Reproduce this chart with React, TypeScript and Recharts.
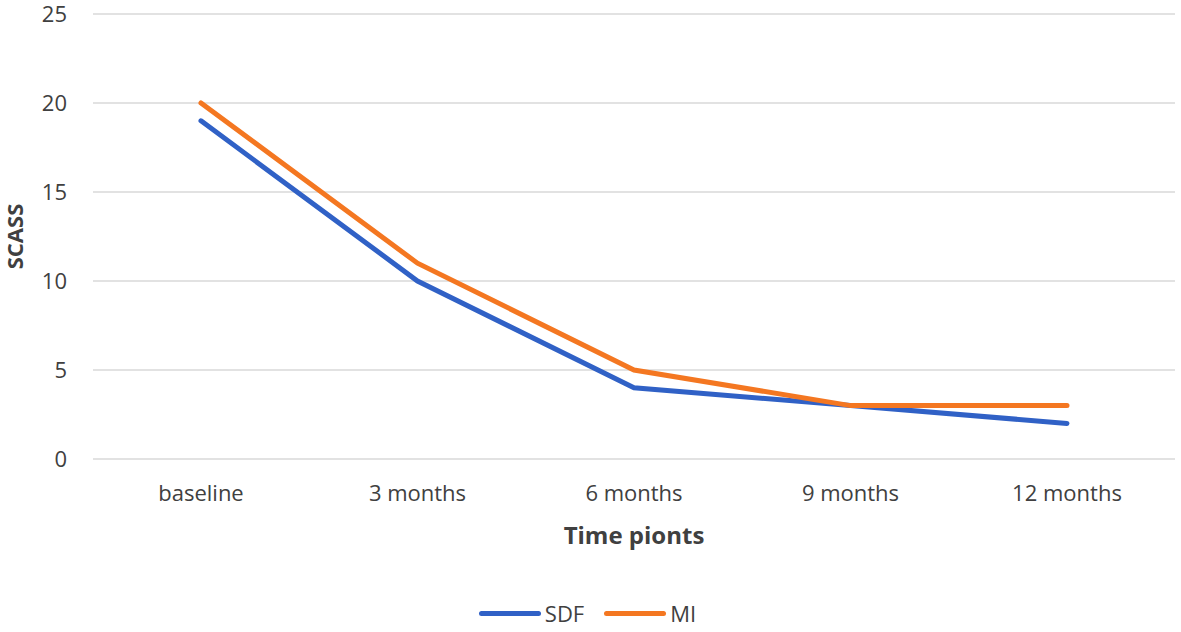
import React from "react";
import {
  LineChart,
  Line,
  XAxis,
  YAxis,
  CartesianGrid,
  Legend,
} from "recharts";

const timePoints = ["baseline", "3 months", "6 months", "9 months", "12 months"];
const sdf = [19, 10, 4, 3, 2];
const mi = [20, 11, 5, 3, 3];
const yTicks = [0, 5, 10, 15, 20, 25];

const BLUE = "#3061C6";
const ORANGE = "#F47721";
const TEXT = "#404040";
const FONT = "'Open Sans', 'Noto Sans', sans-serif";

const data = timePoints.map((t, i) => ({ time: t, SDF: sdf[i], MI: mi[i] }));

function LegendContent() {
  const items = [
    { name: "SDF", color: BLUE },
    { name: "MI", color: ORANGE },
  ];
  return (
    <div
      style={{
        display: "flex",
        justifyContent: "center",
        alignItems: "center",
        fontFamily: FONT,
        fontSize: 22,
        color: TEXT,
        gap: 20,
        paddingLeft: 0,
      }}
    >
      {items.map((it) => (
        <div key={it.name} style={{ display: "flex", alignItems: "center" }}>
          <div
            style={{
              width: 62,
              height: 5,
              borderRadius: 3,
              backgroundColor: it.color,
              marginRight: 4,
            }}
          />
          <span>{it.name}</span>
        </div>
      ))}
    </div>
  );
}

export default function App() {
  return (
    <div style={{ position: "absolute", left: 0, top: 0, width: 1181, height: 632, background: "#fff" }}>
      <LineChart
        width={1181}
        height={632}
        data={data}
        margin={{ top: 14, right: 6, bottom: 39, left: 0 }}
      >
        <CartesianGrid vertical={false} stroke="#d9d9d9" strokeWidth={1.5} />
        <XAxis
          dataKey="time"
          height={100}
          padding={{ left: 108, right: 108 }}
          axisLine={false}
          tickLine={false}
          tickSize={0}
          tickMargin={26}
          interval={0}
          tick={{ fill: TEXT, fontSize: 22, fontFamily: FONT }}
          label={{
            value: "Time pionts",
            position: "insideBottom",
            offset: 15,
            fill: TEXT,
            fontSize: 24,
            fontWeight: "bold",
            fontFamily: FONT,
          }}
        />
        <YAxis
          width={93}
          domain={[0, 25]}
          ticks={yTicks}
          axisLine={false}
          tickLine={false}
          tickSize={0}
          tickMargin={26}
          tick={{ fill: TEXT, fontSize: 22, fontFamily: FONT }}
          label={{
            value: "SCASS",
            angle: -90,
            position: "insideLeft",
            offset: 15,
            fill: TEXT,
            fontSize: 22,
            fontWeight: "bold",
            fontFamily: FONT,
            style: { textAnchor: "middle" },
          }}
        />
        <Legend
          verticalAlign="bottom"
          height={34}
          wrapperStyle={{ bottom: 0 }}
          content={<LegendContent />}
        />
        <Line
          type="linear"
          dataKey="SDF"
          stroke={BLUE}
          strokeWidth={5}
          strokeLinecap="round"
          dot={false}
          activeDot={false}
          isAnimationActive={false}
        />
        <Line
          type="linear"
          dataKey="MI"
          stroke={ORANGE}
          strokeWidth={5}
          strokeLinecap="round"
          dot={false}
          activeDot={false}
          isAnimationActive={false}
        />
      </LineChart>
    </div>
  );
}
